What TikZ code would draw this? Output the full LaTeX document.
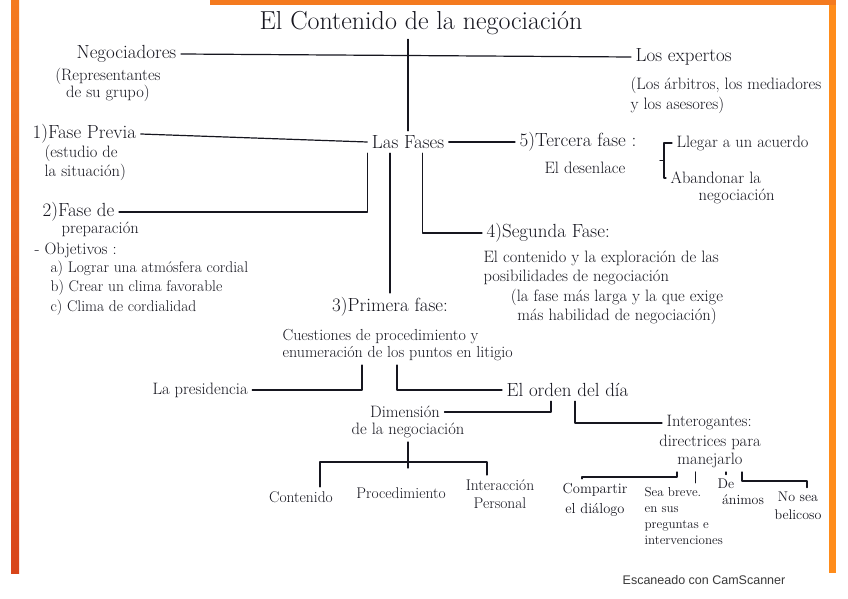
\documentclass[tikz,border=0pt]{standalone}
\usepackage{fontspec}
\newfontfamily\camfont{Liberation Sans}
\usetikzlibrary{calc}
\definecolor{ink}{HTML}{16161F}
\definecolor{scanorange}{HTML}{F47A1F}
\definecolor{scanred}{HTML}{D8451A}
\definecolor{scanlight}{HTML}{FF8C1A}
\definecolor{camgray}{HTML}{3A3A3A}

\begin{document}
\begin{tikzpicture}[
  x=1pt, y=-1pt,
  color=ink, line width=1.2pt, line cap=round, line join=round,
  txt/.style={text=ink, inner sep=4pt, font=\fontsize{16.5}{19}\selectfont},
  lab/.style={txt, anchor=west, align=left},
  head/.style={lab, font=\fontsize{19}{22}\selectfont},
  leaf/.style={txt, align=center, font=\fontsize{14}{18}\selectfont}
]

% ---- scanned sheet ----
\fill[white] (0,0) rectangle (848,599);
\useasboundingbox (0,0) rectangle (848,599);
\shade[top color=scanorange, bottom color=scanred] (11,0) rectangle (19,573);
\fill[scanlight] (829,0) rectangle (836,573);
\fill[scanorange] (210,0) rectangle (836,5);
\node[font=\camfont\fontsize{12.5}{14}\selectfont, text=camgray, inner sep=0pt] (cam) at (704,580) {Escaneado con CamScanner};

% ---- title and parties ----
\node[txt, font=\fontsize{26}{29}\selectfont] (title) at (421,23) {El Contenido de la negociación};
\node[head] (neg) at (72,54) {Negociadores};
\node[txt, align=center, font=\fontsize{16.5}{16}\selectfont] (rep) at (108,85) {(Representantes\\de su grupo)};
\node[head] (expert) at (631,57) {Los expertos};
\node[lab, font=\fontsize{16.5}{20}\selectfont] (arb) at (626,95) {(Los árbitros, los mediadores\\y los asesores)};

\draw (neg.east) -- (expert.west);

% ---- las fases ----
\node[txt, font=\fontsize{19}{22}\selectfont] (fases) at (408,142) {Las Fases};
\node[head] (previa) at (28,134) {1)Fase Previa};
\node[lab] (estud) at (40,163) {(estudio de\\la situación)};
\node[head] (tercera) at (515,142) {5)Tercera fase :};
\node[lab] (desen) at (540,168) {El desenlace};
\node[lab] (llegar) at (672,143) {Llegar a un acuerdo};
\node[lab] (aband) at (666,178) {Abandonar la};
\node[lab] (aband2) at (694,196) {negociación};

\draw (fases.north |- title.south) -- (fases.north);
\draw (previa.east) -- (fases.west);
\draw (fases.east) -- (tercera.west);
\draw (llegar.west) -- ++(-8,0) coordinate (brtop) -- (brtop |- aband.west) coordinate (brbot) -- (aband.west);
\draw ($(brtop)!.5!(brbot)$) -- ++(-4,0);

% ---- fase de preparacion ----
\node[head] (prep) at (38,212) {2)Fase de};
\node[lab] (prep2) at (57,229) {preparación};
\node[lab] (objt) at (30,250) {- Objetivos :};
\node[lab, font=\fontsize{15.5}{19.5}\selectfont] (objs) at (46,288) {a) Lograr una atmósfera cordial\\b) Crear un clima favorable\\c) Clima de cordialidad};

\draw (fases.south west) |- (prep.east);

% ---- segunda fase ----
\node[head] (segunda) at (482,233) {4)Segunda Fase:};
\node[lab, font=\fontsize{16.5}{19}\selectfont] (explor) at (479,268) {El contenido y la exploración de las\\posibilidades de negociación};
\node[txt, align=center, font=\fontsize{16.5}{19}\selectfont] (larga) at (617,307) {(la fase más larga y la que exige\\más habilidad de negociación)};

\draw ([xshift=55pt]fases.south west) |- (segunda.west);

% ---- primera fase ----
\node[txt, font=\fontsize{19}{22}\selectfont] (primera) at (390,307) {3)Primera fase:};
\node[lab, font=\fontsize{16}{16.5}\selectfont] (cuest) at (278,345) {Cuestiones de procedimiento y\\enumeración de los puntos en litigio};
\node[lab] (presid) at (148,390) {La presidencia};
\node[head] (orden) at (502,390) {El orden del día};

\draw (primera.north |- fases.south) -- (primera.north);
\draw ([xshift=84pt]cuest.south west) |- (presid.east);
\draw ([xshift=119pt]cuest.south west) |- (orden.west);

% ---- dimension and interogantes ----
\node[txt] (dim) at (405,412) {Dimensión};
\node[txt] (dim2) at (408,430) {de la negociación};
\node[lab] (interog) at (662,423) {Interogantes:};
\node[txt, align=center, font=\fontsize{16.5}{18}\selectfont] (direc) at (710,451) {directrices para\\manejarlo};

\draw (dim.east) -| ([xshift=49pt]orden.south west);
\draw ([xshift=73pt]orden.south west) |- (interog.west);

% ---- leaves ----
\node[txt, font=\fontsize{15.5}{18}\selectfont] (cont) at (301,497) {Contenido};
\node[txt, font=\fontsize{15.5}{18}\selectfont] (proc) at (401,493) {Procedimiento};
\node[txt, align=center, font=\fontsize{15.5}{18}\selectfont] (inter) at (500,494) {Interacción\\Personal};

\draw (dim2.south) -- ++(0,26);
\draw ([xshift=19pt]cont.north) |- ([yshift=-20pt]dim2.south) -| ([xshift=-13pt]inter.north);

\node[leaf, font=\fontsize{14.5}{20}\selectfont] (comp) at (595,500) {Compartir\\el diálogo};
\node[lab, font=\fontsize{13}{16}\selectfont] (sea) at (640,516) {Sea breve.\\en sus\\preguntas e\\intervenciones};
\node[leaf] (de) at (726,484) {De};
\node[leaf] (animo) at (743,500) {ánimos};
\node[leaf] (nosea) at (798,506) {No sea\\belicoso};

\draw ([xshift=-33pt]direc.south) -- ++(0,5) -| ([xshift=-13pt]comp.north);
\draw ($(sea.north |- direc.south)+(12,0)$) -- ($(sea.north)+(12,0)$);
\draw (de.north |- direc.south) -- (de.north);
\draw ([xshift=32pt]direc.south) -- ++(0,9) -| ([xshift=9pt]nosea.north);

\end{tikzpicture}
\end{document}
